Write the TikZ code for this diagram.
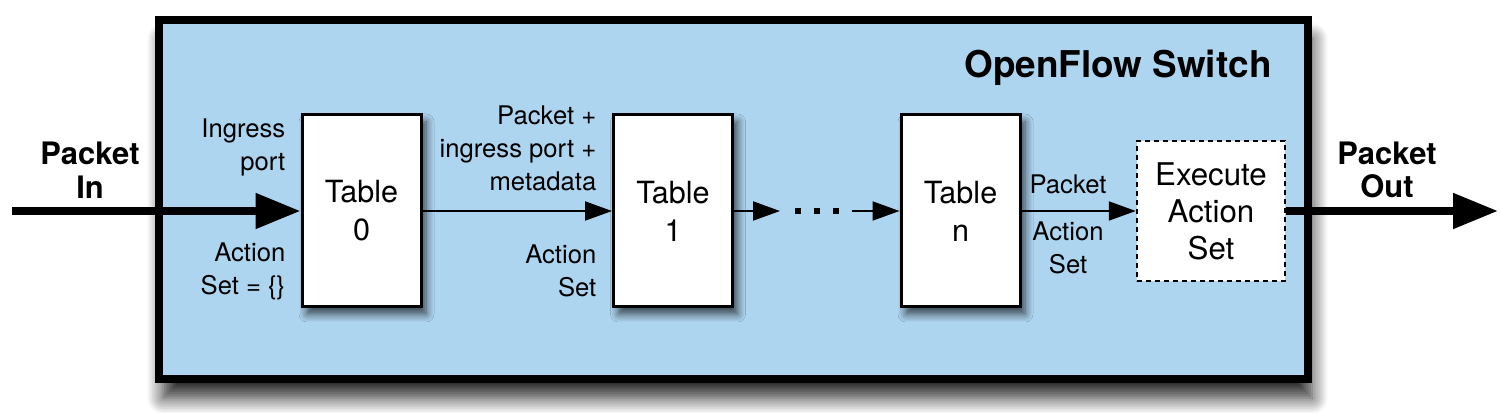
\documentclass[tikz,border=0pt]{standalone}
\usepackage{fontspec}
\setmainfont{TeX Gyre Heros}
\usetikzlibrary{arrows.meta,shadows.blur}
\definecolor{switchblue}{RGB}{174,213,240}

\begin{document}
\begin{tikzpicture}[
    x=0.1mm,
    y=-0.1mm,
    switchbox/.style={
        draw,
        line width=0.8mm,
        fill=switchblue,
        minimum width=114.9mm,
        minimum height=35.9mm,
        blur shadow={
            shadow xshift=0.4mm,
            shadow yshift=-1.9mm,
            shadow blur radius=1.6mm,
            shadow blur steps=10,
            shadow opacity=85
        }
    },
    tablebox/.style={
        draw,
        line width=0.3mm,
        fill=white,
        minimum width=11.9mm,
        minimum height=19.2mm,
        align=center,
        font=\fontsize{8.7}{10.8}\selectfont,
        blur shadow={
            shadow xshift=0.5mm,
            shadow yshift=-0.7mm,
            shadow blur radius=0.8mm,
            shadow blur steps=8,
            shadow opacity=70
        }
    },
    execbox/.style={
        draw,
        line width=0.25mm,
        dash pattern=on 0.5mm off 0.4mm,
        fill=white,
        minimum width=14.8mm,
        minimum height=14mm,
        align=center,
        font=\fontsize{8.9}{10.5}\selectfont
    },
    flow/.style={-{Triangle[length=2.7mm,width=1.9mm]}, line width=0.2mm},
    bigflow/.style={-{Triangle[length=4.5mm,width=3.4mm]}, line width=0.8mm},
    sidelabel/.style={font=\fontsize{7.3}{9.4}\selectfont, inner sep=0pt},
    portlabel/.style={align=center, font=\bfseries\fontsize{8.8}{9.6}\selectfont}
]

\useasboundingbox (0,0) rectangle (1500,413);

% Switch frame
\node[switchbox] (switch) at (733.5,199.5) {};
\node[anchor=east, font=\bfseries\fontsize{10.5}{12}\selectfont] (title)
    at (1284,68) {OpenFlow Switch};

% Flow tables
\node[tablebox] (table0) at (361.5,211) {Table\\0};
\node[tablebox] (table1) at (673,211) {Table\\1};
\node[tablebox] (tablen) at (960.5,211) {Table\\n};
\node[execbox] (exec) at (1211,211) {Execute\\Action\\Set};

% Packet in and out
\node[portlabel] (pin) at (90,170) {Packet\\In};
\node[portlabel] (pout) at (1387,170) {Packet\\Out};
\coordinate (inStart) at (12,211);
\coordinate (outEnd) at (1498,211);
\draw[bigflow] (inStart) -- (table0.west);
\draw[bigflow] (exec.east) -- (outEnd);

% Pipeline connectors
\coordinate (dotsIn) at (780,211);
\coordinate (dotsOut) at (852,211);
\draw[flow] (table0) -- (table1);
\draw[flow] (table1) -- (dotsIn);
\foreach \x in {798,817,836}
    \fill (\x-3,208) rectangle ++(6,6);
\draw[flow] (dotsOut) -- (tablen);
\draw[flow] (tablen) -- (exec);

% Labels along the pipeline
\node[sidelabel, align=right, anchor=east] (ingress) at (286,147)
    {Ingress\\port};
\node[sidelabel, align=right, anchor=east] (empty) at (286,271)
    {Action\\Set = \{\}};
\node[sidelabel, align=right, anchor=east] (meta) at (597,148)
    {Packet +\\ingress port +\\metadata};
\node[sidelabel, align=right, anchor=east] (aset1) at (597,271)
    {Action\\Set};
\node[sidelabel, align=center] (pkt) at (1068,184) {Packet};
\node[sidelabel, align=center] (asetn) at (1068,248) {Action\\Set};

\end{tikzpicture}
\end{document}
